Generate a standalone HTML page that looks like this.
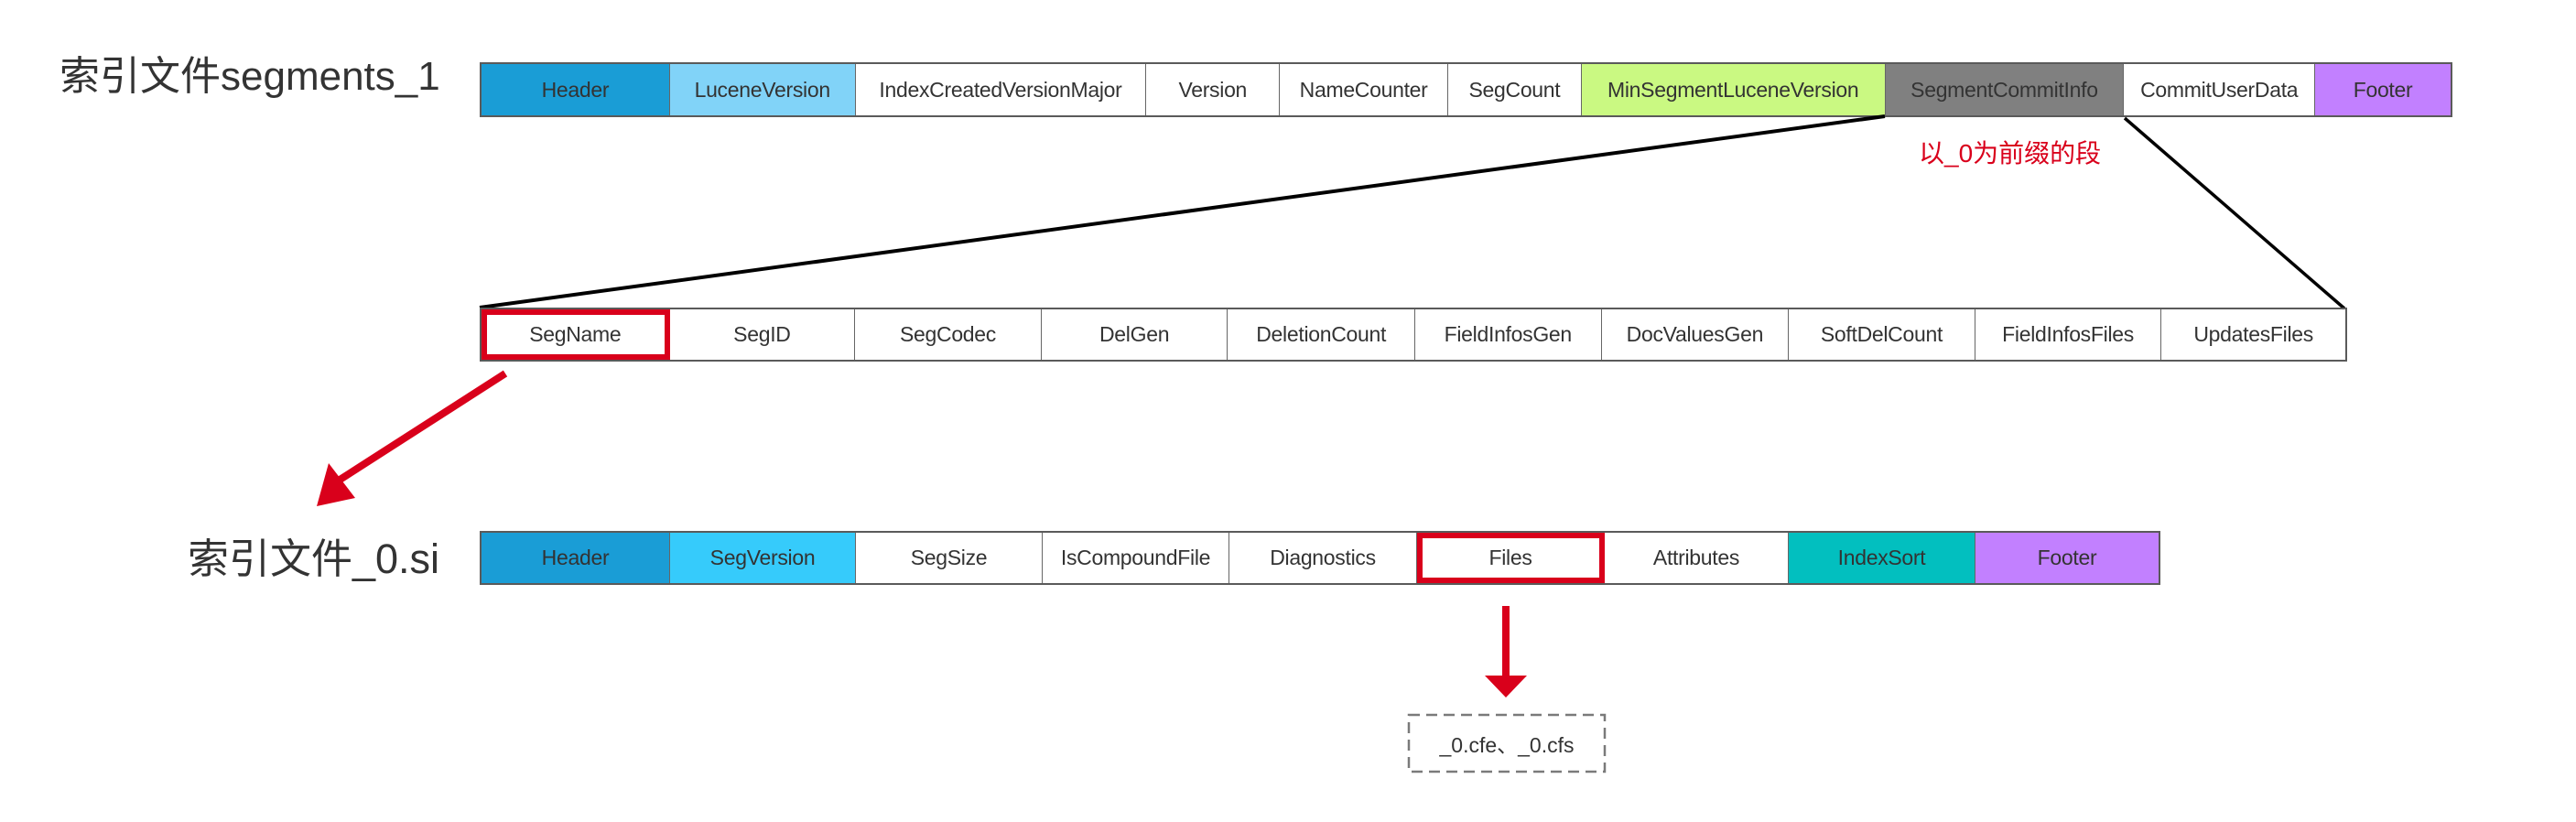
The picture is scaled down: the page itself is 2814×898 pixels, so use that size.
<!DOCTYPE html>
<html><head><meta charset="utf-8"><style>
body{margin:0;width:2814px;height:898px;background:#fff;position:relative;overflow:hidden;font-family:"Liberation Sans","Noto Sans CJK SC",sans-serif;}
.row{position:absolute;display:flex;border:2px solid #5a5a5a;box-sizing:border-box;}
.c{box-sizing:border-box;border-right:1.5px solid #666;display:flex;align-items:center;justify-content:center;font-size:23px;color:#333;white-space:nowrap;overflow:hidden;letter-spacing:-0.3px}
.c:last-child{border-right:none}
.t{position:absolute;color:#333;white-space:nowrap;line-height:1}
.red{outline:6px solid #d9001b;outline-offset:-6px}
</style></head><body>
<div class="t" style="left:65px;top:62px;font-size:44px;">索引文件segments_1</div>
<div class="row" style="left:524px;top:68px;width:2155px;height:60px;">
<div class="c" style="width:206px;background:#1a9dd6">Header</div>
<div class="c" style="width:203px;background:#81d3f8">LuceneVersion</div>
<div class="c" style="width:318px">IndexCreatedVersionMajor</div>
<div class="c" style="width:146px">Version</div>
<div class="c" style="width:184px">NameCounter</div>
<div class="c" style="width:146px">SegCount</div>
<div class="c" style="width:332px;background:#caf982">MinSegmentLuceneVersion</div>
<div class="c" style="width:261px;background:#808080">SegmentCommitInfo</div>
<div class="c" style="width:209px">CommitUserData</div>
<div class="c" style="width:148px;background:#c280ff">Footer</div>
</div>
<div style="position:absolute;left:2096px;top:146px;font-size:28px;color:#d9001b;white-space:nowrap">以_0为前缀的段</div>
<svg style="position:absolute;left:0;top:0" width="2814" height="898">
<line x1="2059" y1="127" x2="524" y2="336" stroke="#000" stroke-width="4"/>
<line x1="2321" y1="129" x2="2561" y2="337" stroke="#000" stroke-width="3.5"/>
<line x1="552" y1="408" x2="365" y2="528" stroke="#d9001b" stroke-width="8"/>
<polygon points="346,553 388,544 359,506" fill="#d9001b"/>
<line x1="1645" y1="662" x2="1645" y2="740" stroke="#d9001b" stroke-width="8"/>
<polygon points="1622,738 1668,738 1645,762" fill="#d9001b"/>
<rect x="1539" y="781" width="214" height="62" fill="none" stroke="#7a7a7a" stroke-width="2.5" stroke-dasharray="12,7"/>
</svg>
<div class="row" style="left:524px;top:336px;width:2040px;height:59px;">
<div class="c red" style="width:206px">SegName</div>
<div class="c" style="width:203px">SegID</div>
<div class="c" style="width:204px">SegCodec</div>
<div class="c" style="width:204px">DelGen</div>
<div class="c" style="width:205px">DeletionCount</div>
<div class="c" style="width:204px">FieldInfosGen</div>
<div class="c" style="width:205px">DocValuesGen</div>
<div class="c" style="width:204px">SoftDelCount</div>
<div class="c" style="width:204px">FieldInfosFiles</div>
<div class="c" style="width:201px">UpdatesFiles</div>
</div>
<div class="t" style="left:205px;top:588px;font-size:45px;">索引文件_0.si</div>
<div class="row" style="left:524px;top:580px;width:1836px;height:59px;">
<div class="c" style="width:206px;background:#1a9dd6">Header</div>
<div class="c" style="width:203px;background:#36cbfb">SegVersion</div>
<div class="c" style="width:204px">SegSize</div>
<div class="c" style="width:204px">IsCompoundFile</div>
<div class="c" style="width:205px">Diagnostics</div>
<div class="c red" style="width:205px">Files</div>
<div class="c" style="width:201px">Attributes</div>
<div class="c" style="width:204px;background:#02bfbf">IndexSort</div>
<div class="c" style="width:200px;background:#c280ff">Footer</div>
</div>
<div style="position:absolute;left:1539px;top:781px;width:214px;height:62px;display:flex;align-items:center;justify-content:center;font-size:23px;color:#333">_0.cfe、_0.cfs</div>
</body></html>
